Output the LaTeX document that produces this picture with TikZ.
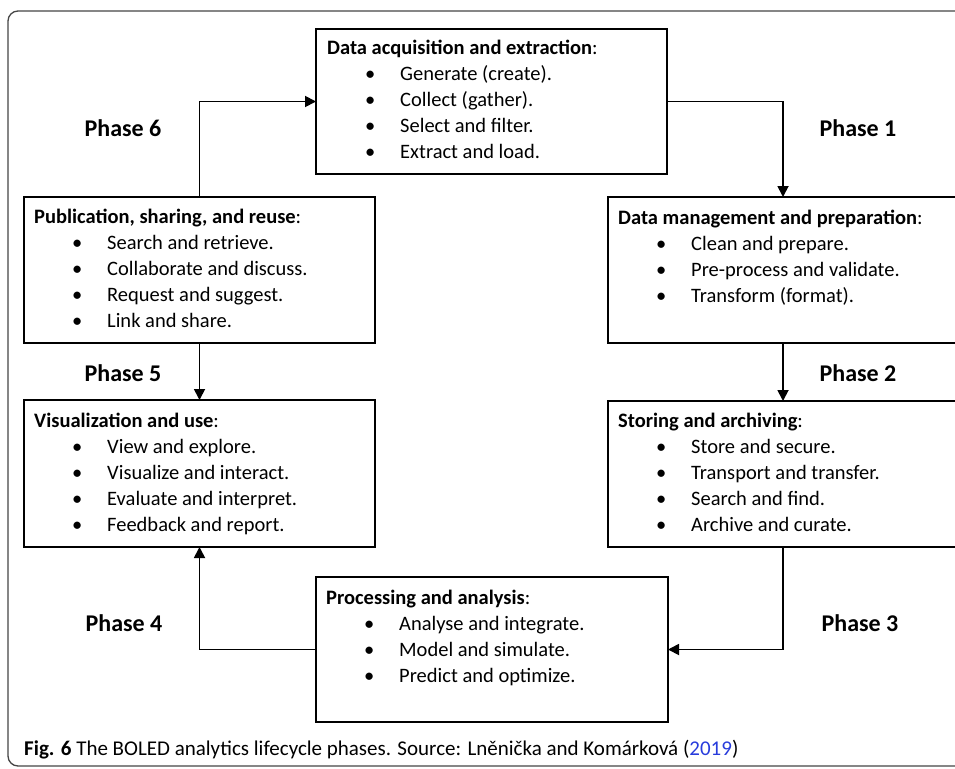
\documentclass[tikz,border=0pt]{standalone}
\usepackage{fontspec}
\setmainfont{Carlito}
\usetikzlibrary{arrows.meta}
\definecolor{linkblue}{RGB}{40,60,220}
\definecolor{framegray}{RGB}{70,70,70}
\newlength\bind \newlength\bw
\setlength\bind{38pt}\setlength\bw{35pt}
\newcommand\itm[1]{\hspace*{\bind}\makebox[\bw][l]{\textbullet}#1}
\tikzset{
  box/.style={draw=black, line width=1.7pt, anchor=north west, inner sep=0pt, outer sep=0pt},
  txt/.style={anchor=north west, inner sep=0pt, align=left, font=\fontsize{20.5}{26}\selectfont},
  conn/.style={line width=1.8pt, -{Triangle[length=11pt,width=11pt]}},
  phase/.style={inner sep=0pt, font=\fontsize{24}{28}\selectfont\bfseries},
}
\begin{document}
\begin{tikzpicture}[x=1pt,y=-1pt]
\useasboundingbox (0,0) rectangle (955,768);
\clip (0,0) rectangle (955,768);
\fill[white] (0,0) rectangle (955,768);
\draw[framegray, line width=1.3pt, rounded corners=10pt] (8,11) rectangle (985,766);

% boxes
\node[box, minimum width=351, minimum height=145] (acq) at (316,29) {};
\node[box, minimum width=380, minimum height=146] (mgmt) at (608,197) {};
\node[box, minimum width=380, minimum height=146] (store) at (608,401) {};
\node[box, minimum width=352, minimum height=145] (proc) at (316,577) {};
\node[box, minimum width=351, minimum height=147] (vis) at (24,400) {};
\node[box, minimum width=351, minimum height=146] (pub) at (24,197) {};

% texts
\node[txt] (acqT) at (327,40) {\textbf{Data acquisition and extraction}:\\
  \itm{Generate (create).}\\ \itm{Collect (gather).}\\ \itm{Select and filter.}\\ \itm{Extract and load.}};
\node[txt] (mgmtT) at (618,210) {\textbf{Data management and preparation}:\\
  \itm{Clean and prepare.}\\ \itm{Pre-process and validate.}\\ \itm{Transform (format).}};
\node[txt] (storeT) at (618,413) {\textbf{Storing and archiving}:\\
  \itm{Store and secure.}\\ \itm{Transport and transfer.}\\ \itm{Search and find.}\\ \itm{Archive and curate.}};
\node[txt] (visT) at (34,413) {\textbf{Visualization and use}:\\
  \itm{View and explore.}\\ \itm{Visualize and interact.}\\ \itm{Evaluate and interpret.}\\ \itm{Feedback and report.}};
\node[txt] (pubT) at (34,209) {\textbf{Publication, sharing, and reuse}:\\
  \itm{Search and retrieve.}\\ \itm{Collaborate and discuss.}\\ \itm{Request and suggest.}\\ \itm{Link and share.}};
\node[txt] (procT) at (326,590) {\setlength\bind{44pt}\setlength\bw{36pt}\textbf{Processing and analysis}:\\
  \itm{Analyse and integrate.}\\ \itm{Model and simulate.}\\ \itm{Predict and optimize.}};

% connectors
\coordinate (xr) at (783,0);
\draw[conn] (acq.east) -| (xr |- mgmt.north);
\draw[conn] (xr |- mgmt.south) -- (xr |- store.north);
\draw[conn] (xr |- store.south) |- (proc.east);
\draw[conn] (proc.west) -| (vis.south);
\draw[conn] (pub.south) -- (vis.north);
\draw[conn] (pub.north) |- (acq.west);

% phase labels
\node[phase] (p6) at (123,128) {Phase 6};
\node[phase] (p1) at (858,128) {Phase 1};
\node[phase] (p5) at (123,373) {Phase 5};
\node[phase] (p2) at (858,373) {Phase 2};
\node[phase] (p4) at (124,623) {Phase 4};
\node[phase] (p3) at (860,623) {Phase 3};

% caption
\node[anchor=west, inner sep=0pt, font=\fontsize{21}{25}\selectfont] (cap) at (24,750)
  {\textbf{Fig. 6} The BOLED analytics lifecycle phases. Source: Lněnička and Komárková (\textcolor{linkblue}{2019})};
\end{tikzpicture}
\end{document}
